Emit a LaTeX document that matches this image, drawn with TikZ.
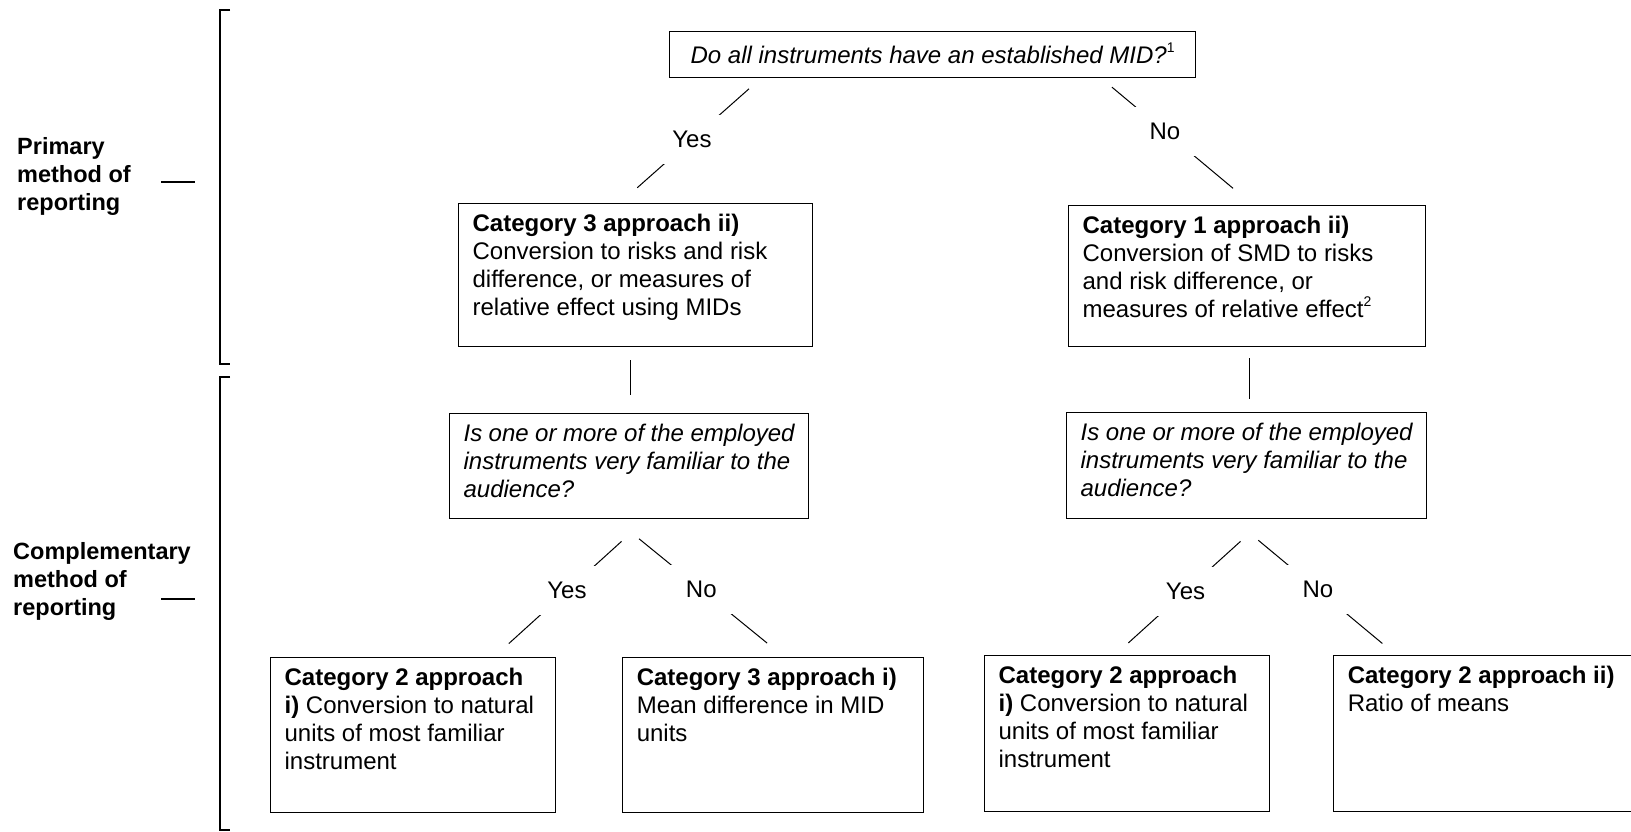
\documentclass[tikz,border=0pt]{standalone}
\usepackage{fontspec}
\setmainfont{Liberation Sans}
\usetikzlibrary{positioning}
\newcommand{\boxtext}[3]{\parbox[c][#2][t]{#1}{\raggedright #3}}
\newcommand{\notemark}[1]{\smash{\raisebox{11pt}{\fontsize{14}{14}\selectfont\upshape #1}}}

\begin{document}
\begin{tikzpicture}[
  x=1pt, y=-1pt,
  font=\fontsize{24}{28}\selectfont,
  box/.style={rectangle, draw, line width=1.2pt, inner xsep=14pt,
              inner ysep=11pt, anchor=north west},
  link/.style={line width=1pt},
  ans/.style={fill=white, inner sep=16pt},
  bracket/.style={line width=2.6pt},
  side/.style={font=\fontsize{23.5}{28}\selectfont\bfseries, align=left,
               inner sep=0pt, anchor=north west}
]
  \useasboundingbox (0,0) rectangle (1631,832);

  % left side: brackets and labels
  \draw[bracket] (230,10) -- (220,10) -- (220,364) -- (230,364);
  \draw[bracket] (230,377) -- (220,377) -- (220,830) -- (230,830);
  \node[side] (prim) at (17,137) {Primary\\method of\\reporting};
  \node[side] (compl) at (13,542) {Complementary\\method of\\reporting};
  \draw[bracket] (161,182) -- (195,182);
  \draw[bracket] (161,599) -- (195,599);

  % boxes
  \node[box, inner sep=0pt, minimum width=526pt, minimum height=46pt] (top) at (669,31)
    {\itshape Do all instruments have an established MID?\notemark{1}};
  \node[box] (c3ii) at (458,203) {\boxtext{326pt}{121pt}{\textbf{Category 3 approach ii)}\\
    Conversion to risks and risk\\difference, or measures of\\relative effect using MIDs}};
  \node[box] (c1ii) at (1068,205) {\boxtext{329pt}{119pt}{\textbf{Category 1 approach ii)}\\
    Conversion of SMD to risks\\and risk difference, or\\measures of relative effect\notemark{2}}};
  \node[box] (qL) at (449,413) {\boxtext{331pt}{83pt}{\itshape Is one or more of the employed\\
    instruments very familiar to the\\audience?}};
  \node[box] (qR) at (1066,412) {\boxtext{332pt}{84pt}{\itshape Is one or more of the employed\\
    instruments very familiar to the\\audience?}};
  \node[box] (b1) at (270,657) {\boxtext{257pt}{133pt}{\textbf{Category 2 approach}\\
    \textbf{i)} Conversion to natural\\units of most familiar\\instrument}};
  \node[box, right=66pt of b1] (b2) {\boxtext{273pt}{133pt}{\textbf{Category 3 approach i)}\\
    Mean difference in MID\\units}};
  \node[box] (b3) at (984,655) {\boxtext{257pt}{134pt}{\textbf{Category 2 approach}\\
    \textbf{i)} Conversion to natural\\units of most familiar\\instrument}};
  \node[box, right=63pt of b3] (b4) {\boxtext{273pt}{134pt}{\textbf{Category 2 approach ii)}\\
    Ratio of means}};

  % connectors
  \draw[link, shorten <=16pt, shorten >=23pt] ([xshift=92pt]top.south west)
    -- node[ans, pos=0.49] {Yes} ([xshift=162pt]c3ii.north west);
  \draw[link, shorten <=14pt, shorten >=26pt] ([xshift=-95pt]top.south east)
    -- node[ans, pos=0.42] {No} ([xshift=185pt]c1ii.north west);
  \draw[link, shorten <=13pt, shorten >=18pt] ([xshift=172pt]c3ii.south west)
    -- ([xshift=181pt]qL.north west);
  \draw[link, shorten <=11pt, shorten >=13pt] ([xshift=181pt]c1ii.south west)
    -- ([xshift=183pt]qR.north west);
  \draw[link, shorten <=33pt, shorten >=20pt] ([xshift=197pt]qL.south west)
    -- node[ans, pos=0.52] {Yes} ([xshift=224pt]b1.north west);
  \draw[link, shorten <=31pt, shorten >=22pt] ([xshift=166pt]qL.south west)
    -- node[ans, pos=0.51] {No} ([xshift=162pt]b2.north west);
  \draw[link, shorten <=33pt, shorten >=18pt] ([xshift=199pt]qR.south west)
    -- node[ans, pos=0.53] {Yes} ([xshift=131pt]b3.north west);
  \draw[link, shorten <=33pt, shorten >=18pt] ([xshift=167pt]qR.south west)
    -- node[ans, pos=0.52] {No} ([xshift=63pt]b4.north west);
\end{tikzpicture}
\end{document}
